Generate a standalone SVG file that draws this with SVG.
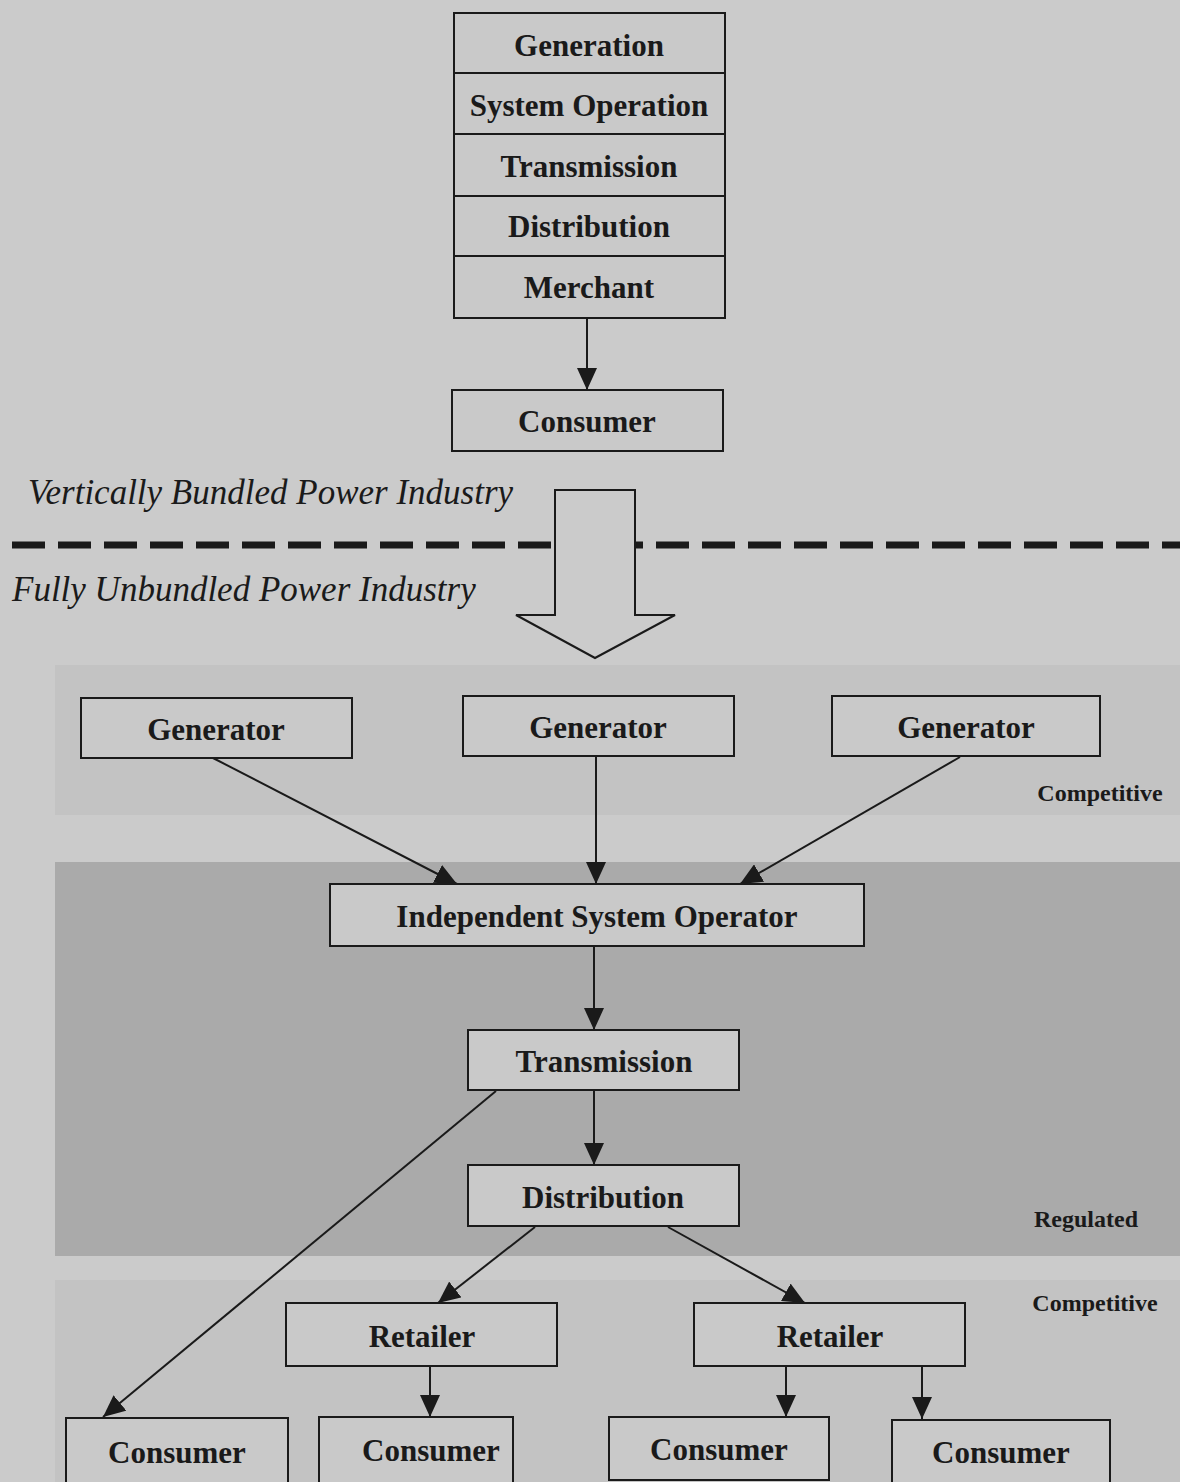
<svg xmlns="http://www.w3.org/2000/svg" width="1180" height="1482" viewBox="0 0 1180 1482">
<defs>
<style>
.box{fill:#c9c9c9;stroke:#1a1a1a;stroke-width:2}
.lbl{font-family:"Liberation Serif","Times New Roman",serif;font-weight:bold;font-size:31px;fill:#1a1a1a;text-anchor:middle}
.ital{font-family:"Liberation Serif","Times New Roman",serif;font-style:italic;font-size:35px;fill:#1a1a1a}
.zone{font-family:"Liberation Serif","Times New Roman",serif;font-weight:bold;font-size:24px;fill:#1a1a1a;text-anchor:middle}
.conn{stroke:#1a1a1a;stroke-width:2;fill:none;marker-end:url(#ah)}
</style>
<marker id="ah" markerUnits="userSpaceOnUse" markerWidth="22" markerHeight="20" refX="22" refY="10" orient="auto">
<path d="M0,0 L22,10 L0,20 z" fill="#1a1a1a"/>
</marker>
</defs>
<rect x="0" y="0" width="1180" height="1482" fill="#cbcbcb"/>
<!-- bands -->
<rect x="55" y="665" width="1125" height="150" fill="#c3c3c3"/>
<rect x="55" y="862" width="1125" height="394" fill="#aaaaaa"/>
<rect x="55" y="1280" width="1125" height="202" fill="#c3c3c3"/>

<!-- top stack -->
<g id="bundled">
<rect class="box" x="454" y="13" width="271" height="305"/>
<line x1="454" y1="73" x2="725" y2="73" stroke="#1a1a1a" stroke-width="2"/>
<line x1="454" y1="134" x2="725" y2="134" stroke="#1a1a1a" stroke-width="2"/>
<line x1="454" y1="196" x2="725" y2="196" stroke="#1a1a1a" stroke-width="2"/>
<line x1="454" y1="256" x2="725" y2="256" stroke="#1a1a1a" stroke-width="2"/>
<text class="lbl" x="589" y="56">Generation</text>
<text class="lbl" x="589" y="116" font-size="29">System Operation</text>
<text class="lbl" x="589" y="177">Transmission</text>
<text class="lbl" x="589" y="237">Distribution</text>
<text class="lbl" x="589" y="298">Merchant</text>
</g>
<g id="consumer-top">
<rect class="box" x="452" y="390" width="271" height="61"/>
<text class="lbl" x="587" y="432">Consumer</text>
</g>

<text class="ital" x="28" y="504">Vertically Bundled Power Industry</text>
<text class="ital" x="12" y="601">Fully Unbundled Power Industry</text>
<line x1="12" y1="545" x2="1180" y2="545" stroke="#1a1a1a" stroke-width="7" stroke-dasharray="33,13"/>
<g id="big-arrow">
<path d="M555,490 L635,490 L635,615 L675,615 L595,658 L516,615 L555,615 Z" fill="#cbcbcb" stroke="#1a1a1a" stroke-width="2"/>
</g>

<text class="zone" x="1100" y="801">Competitive</text>
<text class="zone" x="1086" y="1227">Regulated</text>
<text class="zone" x="1095" y="1311">Competitive</text>

<g id="connectors">
<line class="conn" x1="587" y1="318" x2="587" y2="390"/>
<line class="conn" x1="213" y1="758" x2="457" y2="884"/>
<line class="conn" x1="596" y1="756" x2="596" y2="884"/>
<line class="conn" x1="960" y1="757" x2="740" y2="884"/>
<line class="conn" x1="594" y1="946" x2="594" y2="1030"/>
<line class="conn" x1="594" y1="1090" x2="594" y2="1165"/>
<line class="conn" x1="496" y1="1091" x2="103" y2="1417"/>
<line class="conn" x1="535" y1="1227" x2="438" y2="1303"/>
<line class="conn" x1="668" y1="1227" x2="805" y2="1303"/>
<line class="conn" x1="430" y1="1366" x2="430" y2="1417"/>
<line class="conn" x1="786" y1="1366" x2="786" y2="1417"/>
<line class="conn" x1="922" y1="1366" x2="922" y2="1419"/>
</g>

<g id="gen1"><rect class="box" x="81" y="698" width="271" height="60"/><text class="lbl" x="216" y="740">Generator</text></g>
<g id="gen2"><rect class="box" x="463" y="696" width="271" height="60"/><text class="lbl" x="598" y="738">Generator</text></g>
<g id="gen3"><rect class="box" x="832" y="696" width="268" height="60"/><text class="lbl" x="966" y="738">Generator</text></g>
<g id="iso"><rect class="box" x="330" y="884" width="534" height="62"/><text class="lbl" x="597" y="927">Independent System Operator</text></g>
<g id="transmission"><rect class="box" x="468" y="1030" width="271" height="60"/><text class="lbl" x="604" y="1072">Transmission</text></g>
<g id="distribution"><rect class="box" x="468" y="1165" width="271" height="61"/><text class="lbl" x="603" y="1208">Distribution</text></g>
<g id="retailer1"><rect class="box" x="286" y="1303" width="271" height="63"/><text class="lbl" x="422" y="1347">Retailer</text></g>
<g id="retailer2"><rect class="box" x="694" y="1303" width="271" height="63"/><text class="lbl" x="830" y="1347">Retailer</text></g>
<g id="consumer1"><rect class="box" x="66" y="1418" width="222" height="66"/><text class="lbl" x="177" y="1463">Consumer</text></g>
<g id="consumer2"><rect class="box" x="319" y="1417" width="194" height="67"/><text class="lbl" x="431" y="1461">Consumer</text></g>
<g id="consumer3"><rect class="box" x="609" y="1417" width="220" height="63"/><text class="lbl" x="719" y="1460">Consumer</text></g>
<g id="consumer4"><rect class="box" x="892" y="1420" width="218" height="64"/><text class="lbl" x="1001" y="1463">Consumer</text></g>
</svg>
